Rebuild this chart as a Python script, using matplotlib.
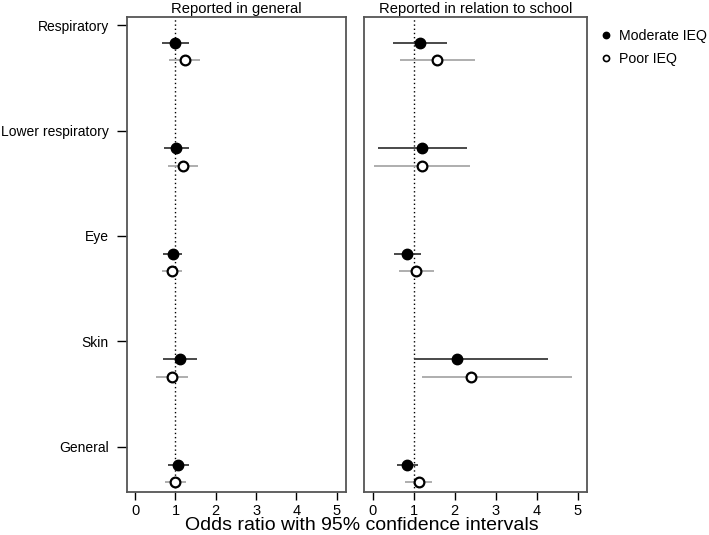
import matplotlib
matplotlib.use("Agg")
import matplotlib.pyplot as plt
from matplotlib.lines import Line2D
import numpy as np

plt.rcParams['font.family'] = ['Liberation Sans', 'DejaVu Sans']

categories = ["Respiratory", "Lower respiratory", "Eye", "Skin", "General"]
panels = ["Reported in general", "Reported in relation to school"]

# Reported in general
gen_mod_or = [1.00, 1.02, 0.93, 1.10, 1.07]
gen_mod_lo = [0.67, 0.71, 0.70, 0.69, 0.81]
gen_mod_hi = [1.33, 1.33, 1.15, 1.53, 1.33]
gen_poor_or = [1.23, 1.18, 0.91, 0.91, 1.00]
gen_poor_lo = [0.83, 0.81, 0.67, 0.52, 0.74]
gen_poor_hi = [1.62, 1.55, 1.15, 1.30, 1.25]

# Reported in relation to school
sch_mod_or = [1.16, 1.21, 0.85, 2.07, 0.85]
sch_mod_lo = [0.49, 0.13, 0.51, 1.00, 0.60]
sch_mod_hi = [1.82, 2.31, 1.18, 4.29, 1.10]
sch_poor_or = [1.57, 1.20, 1.06, 2.41, 1.12]
sch_poor_lo = [0.66, 0.04, 0.64, 1.20, 0.78]
sch_poor_hi = [2.49, 2.37, 1.49, 4.86, 1.46]

data = [
    (gen_mod_or, gen_mod_lo, gen_mod_hi, gen_poor_or, gen_poor_lo, gen_poor_hi),
    (sch_mod_or, sch_mod_lo, sch_mod_hi, sch_poor_or, sch_poor_lo, sch_poor_hi),
]

fig = plt.figure(figsize=(7.09, 5.35), dpi=100)
ax1 = fig.add_axes([0.1787, 0.0804, 0.3093, 0.8876])
ax2 = fig.add_axes([0.5134, 0.0804, 0.3145, 0.8876])

pos = np.arange(len(categories))
frame_col = "#555555"
for ax, title, d in zip([ax1, ax2], panels, data):
    mo, ml, mh, po, pl, ph = d
    ax.axvline(1, color="black", ls=(0, (1, 2)), lw=1.0, zorder=1)
    ym = pos + 0.17
    yp = pos + 0.335
    ax.hlines(ym, ml, mh, color="#3a3a3a", lw=1.3, zorder=2)
    ax.hlines(yp, pl, ph, color="#a8a8a8", lw=1.3, zorder=2)
    ax.plot(mo, ym, "o", ms=7.5, mfc="black", mec="black", zorder=3)
    ax.plot(po, yp, "o", ms=7, mfc="white", mec="black", mew=1.6, zorder=3)
    ax.set_xlim(-0.21, 5.23)
    ax.set_ylim(4.43, -0.076)
    ax.set_xticks([0, 1, 2, 3, 4, 5])
    ax.tick_params(axis="x", direction="out", length=6, width=1, labelsize=10.5, colors="black", pad=3)
    ax.set_title(title, fontsize=10.6, pad=3)
    for s in ax.spines.values():
        s.set_color(frame_col)
        s.set_linewidth(1.3)

ax1.set_yticks(pos)
ax1.set_yticklabels(categories)
ax1.tick_params(axis="y", direction="out", length=7, width=1, labelsize=10, pad=6)
ax2.set_yticks([])

fig.text(0.511, 5 / 535, "Odds ratio with 95% confidence intervals", ha="center", va="baseline", fontsize=14)

handles = [
    Line2D([], [], marker="o", ls="none", ms=4.6, mfc="black", mec="black"),
    Line2D([], [], marker="o", ls="none", ms=4.4, mfc="white", mec="black", mew=1.2),
]
fig.legend(handles, ["Moderate IEQ", "Poor IEQ"], loc="upper left",
           bbox_to_anchor=(0.842, 0.957), frameon=False, fontsize=10.2,
           handlelength=0.5, handletextpad=0.65, labelspacing=0.65, borderaxespad=0)

fig.savefig("out.png", dpi=100)
